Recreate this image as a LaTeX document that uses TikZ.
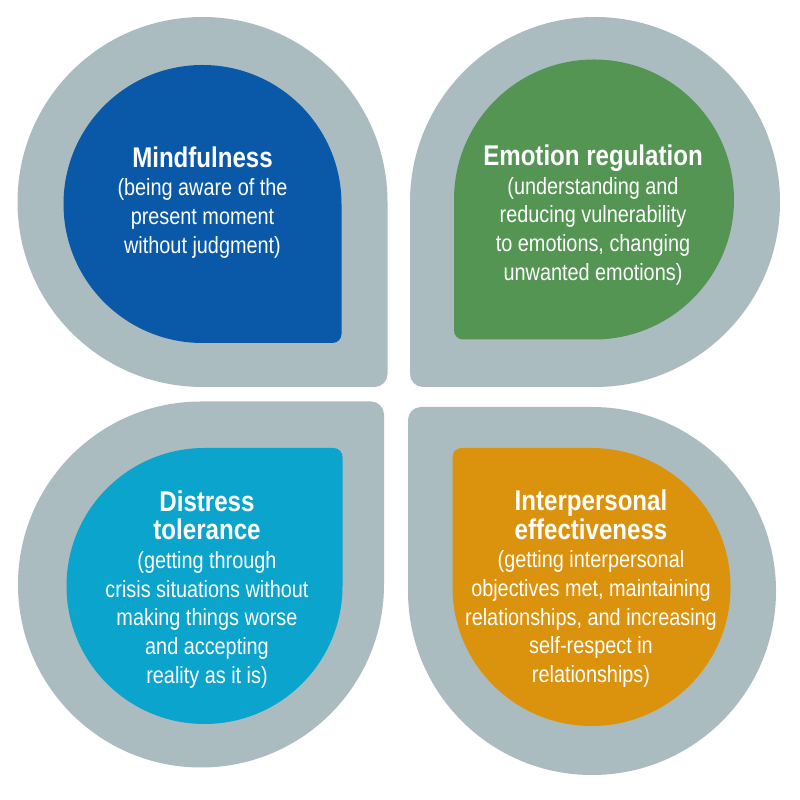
\documentclass[tikz,border=0pt]{standalone}
\usepackage{fontspec}
\setmainfont{Liberation Sans}[FakeStretch=0.845]
\definecolor{leafgray}{RGB}{170,188,192}
\definecolor{mblue}{RGB}{10,89,168}
\definecolor{egreen}{RGB}{84,149,84}
\definecolor{dcyan}{RGB}{10,164,205}
\definecolor{iorange}{RGB}{219,146,12}
\newcommand\leafshape[6]{% cx, cy, half size, small radius, rotation, colour
  \fill[#6, shift={(#1,#2)}, rotate=#5] (#3,-#3+#4) -- (#3,0)
    arc[start angle=0,end angle=270,radius=#3] -- (#3-#4,-#3)
    arc[start angle=270,end angle=360,radius=#4] -- cycle;}
\newcommand\ttl[1]{{\fontsize{28.5}{28.7}\selectfont\bfseries #1}}
\begin{document}
\begin{tikzpicture}[x=1pt,y=1pt,
  label/.style={anchor=north,inner sep=0pt,align=center,text=white,
    font=\fontsize{23.5}{28.7}\selectfont}]
\useasboundingbox[fill=white] (0,0) rectangle (800,800);
% grey outer leaves
\leafshape{202.5}{598}{185}{13}{0}{leafgray}
\leafshape{595}{598}{185}{13}{-90}{leafgray}
\leafshape{201}{215.5}{183}{13}{90}{leafgray}
\leafshape{592}{209}{184}{13}{180}{leafgray}
% coloured inner leaves
\leafshape{202.5}{596}{139}{9}{0}{mblue}
\leafshape{594}{600.5}{140}{9}{-90}{egreen}
\leafshape{204.5}{214}{138}{9}{90}{dcyan}
\leafshape{591.5}{213}{139}{9}{180}{iorange}
% texts
\node[label] (m) at (202.5,653.8) {\ttl{Mindfulness}\\(being aware of the\\present moment\\without judgment)};
\node[label] (e) at (593,655.5) {\ttl{Emotion regulation}\\(understanding and\\reducing vulnerability\\to emotions, changing\\unwanted emotions)};
\node[label] (d) at (207,309.8) {\ttl{Distress}\\\ttl{tolerance}\\(getting through\\crisis situations without\\making things worse\\and accepting\\reality as it is)};
\node[label] (i) at (591,310.5) {\ttl{Interpersonal}\\\ttl{effectiveness}\\(getting interpersonal\\objectives met, maintaining\\relationships, and increasing\\self-respect in\\relationships)};
\end{tikzpicture}
\end{document}
